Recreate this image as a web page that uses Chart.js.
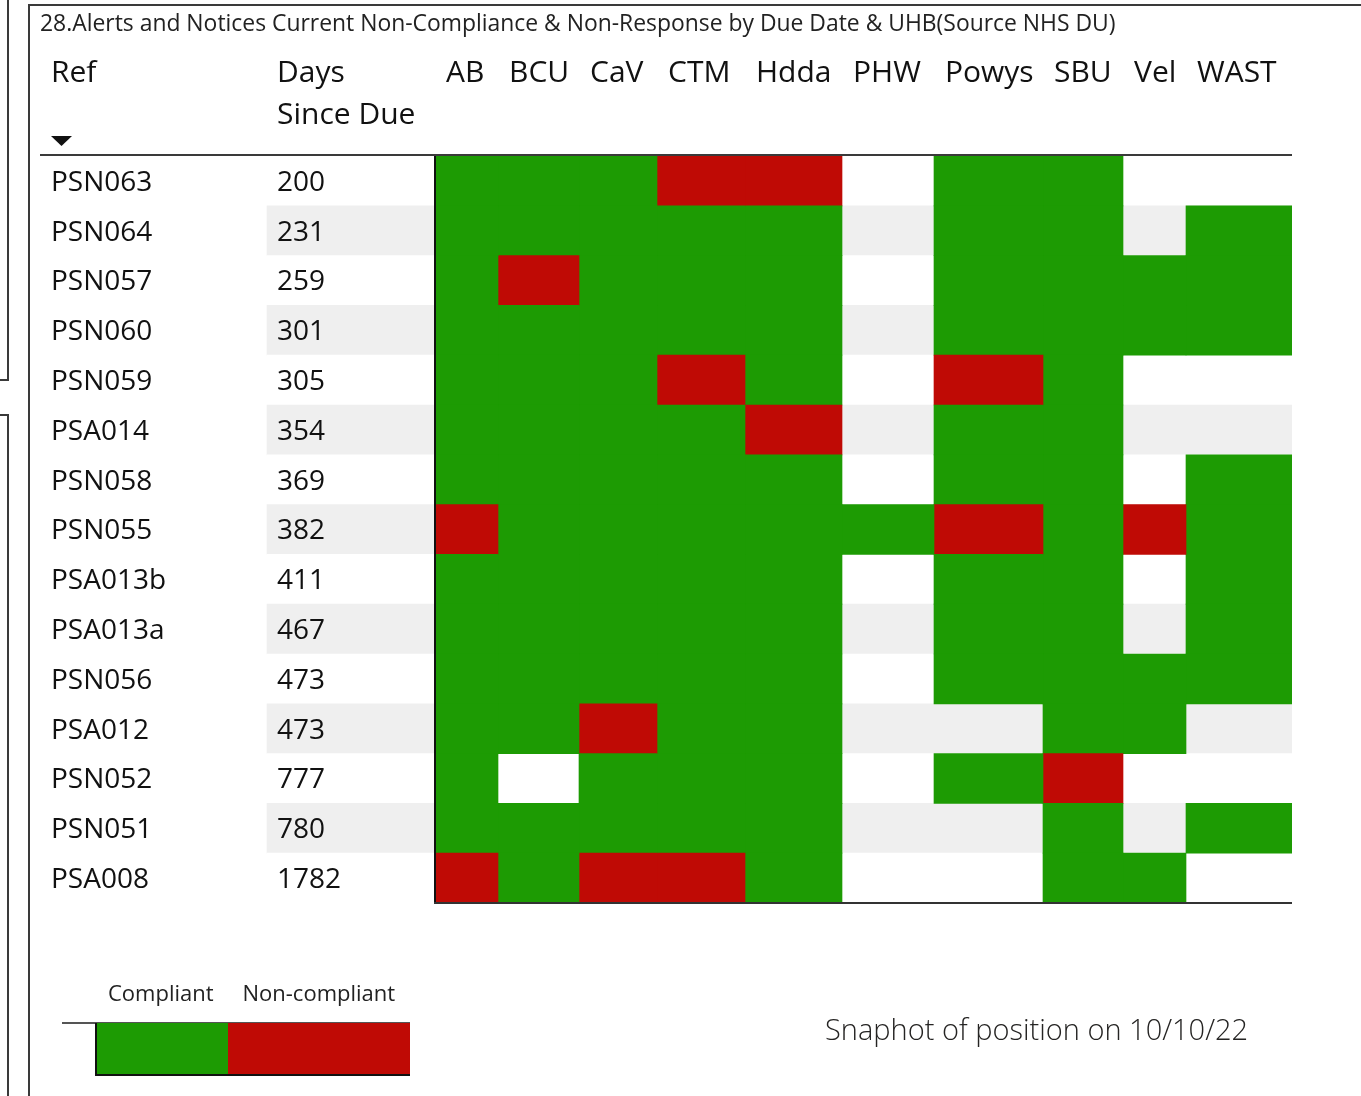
<!DOCTYPE html>
<html>
<head>
<meta charset="utf-8">
<script src="https://cdn.jsdelivr.net/npm/chart.js@4.4.1/dist/chart.umd.min.js"></script>
<style>
  html, body { margin: 0; padding: 0; background: #fff; }
  body { width: 1361px; height: 1096px; position: relative; overflow: hidden; font-family: 'Open Sans', sans-serif; }
  #chart { position: absolute; left: 0; top: 0; }
  .line { position: absolute; background: #3a3a3a; }
  .title { position: absolute; left: 40px; top: 7px; font-size: 22.9px; color: #222; white-space: nowrap; }
  .legend-label { position: absolute; top: 977px; font-size: 22px; color: #222; white-space: nowrap; }
  .swatch { position: absolute; top: 1023px; height: 52px; }
  .snapshot { position: absolute; left: 825px; top: 1009px; font-size: 29px; font-weight: 300; color: #252423; white-space: nowrap; }
</style>
</head>
<body>
<canvas id="chart" width="1361" height="1096"></canvas>

<!-- outer frame bits from the report page -->
<div class="line" style="left:7px; top:0; width:2px; height:381px;"></div>
<div class="line" style="left:0; top:379px; width:9px; height:2px;"></div>
<div class="line" style="left:7px; top:414px; width:2px; height:682px;"></div>
<div class="line" style="left:0; top:414px; width:9px; height:2px;"></div>
<div class="line" style="left:28px; top:4px; width:2px; height:1092px;"></div>
<div class="line" style="left:28px; top:4px; width:1333px; height:2px;"></div>

<div class="title">28.Alerts and Notices Current Non-Compliance &amp; Non-Response by Due Date &amp; UHB(Source NHS DU)</div>

<div class="legend-label" id="lgC">Compliant</div>
<div class="legend-label" id="lgN">Non-compliant</div>
<div class="line" style="left:62px; top:1022px; width:348px; height:2px; background:#555;"></div>
<div class="swatch" style="left:95px; width:133px; background:#1d9b03;"></div>
<div class="swatch" style="left:228px; width:182px; background:#bf0a05;"></div>
<div class="line" style="left:95px; top:1023px; width:2px; height:53px; background:#111;"></div>
<div class="line" style="left:95px; top:1074px; width:315px; height:2px; background:#111;"></div>

<div class="snapshot">Snaphot of position on 10/10/22</div>

<script>
const refs = ['PSN063', 'PSN064', 'PSN057', 'PSN060', 'PSN059', 'PSA014', 'PSN058', 'PSN055',
  'PSA013b', 'PSA013a', 'PSN056', 'PSA012', 'PSN052', 'PSN051', 'PSA008'];
const daysSinceDue = [200, 231, 259, 301, 305, 354, 369, 382, 411, 467, 473, 473, 777, 780, 1782];
const orgs = ['AB', 'BCU', 'CaV', 'CTM', 'Hdda', 'PHW', 'Powys', 'SBU', 'Vel', 'WAST'];

// 1 = compliant, 0 = non-compliant, null = nothing reported
const ab = [1, 1, 1, 1, 1, 1, 1, 0, 1, 1, 1, 1, 1, 1, 0];
const bcu = [1, 1, 0, 1, 1, 1, 1, 1, 1, 1, 1, 1, null, 1, 1];
const cav = [1, 1, 1, 1, 1, 1, 1, 1, 1, 1, 1, 0, 1, 1, 0];
const ctm = [0, 1, 1, 1, 0, 1, 1, 1, 1, 1, 1, 1, 1, 1, 0];
const hdda = [0, 1, 1, 1, 1, 0, 1, 1, 1, 1, 1, 1, 1, 1, 1];
const phw = [null, null, null, null, null, null, null, 1, null, null, null, null, null, null, null];
const powys = [1, 1, 1, 1, 0, 1, 1, 0, 1, 1, 1, null, 1, null, null];
const sbu = [1, 1, 1, 1, 1, 1, 1, 1, 1, 1, 1, 1, 0, 1, 1];
const vel = [null, null, 1, 1, null, null, null, 0, null, null, 1, 1, null, null, 1];
const wast = [null, 1, 1, 1, null, null, 1, 1, 1, 1, 1, null, null, 1, null];
const statusByOrg = [ab, bcu, cav, ctm, hdda, phw, powys, sbu, vel, wast];

// layout: width of each table column (Ref, Days, then one per org)
const colWidths = [227, 168, 63, 81, 78, 88, 97, 92, 109, 80, 63, 106];
const colStarts = colWidths.map((w, i) => colWidths.slice(0, i).reduce((a, b) => a + b, 0));
const tableWidth = colWidths.reduce((a, b) => a + b, 0);

const GREEN = '#1d9b03';
const RED = '#bf0a05';
const BAND = '#efefef';
const FONT = '"Open Sans", sans-serif';

// Alternate row shading across the Days and org columns
const bandDataset = {
  label: 'band',
  data: refs.map(() => [colStarts[1], tableWidth]),
  backgroundColor: refs.map((r, i) => (i % 2 ? BAND : '#ffffff')),
  grouped: false,
  order: 2,
};

const orgDatasets = orgs.map((org, j) => {
  const c = j + 2;
  const status = statusByOrg[j];
  return {
    label: org,
    data: status.map((s) => (s === null ? null : [colStarts[c], colStarts[c] + colWidths[c]])),
    backgroundColor: status.map((s) => (s === 1 ? GREEN : RED)),
    grouped: false,
    order: 1,
  };
});

// Draws the table text, header and borders around the cells
const tableText = {
  id: 'tableText',
  afterDatasetsDraw(chart) {
    const { ctx, chartArea, scales } = chart;
    const x = scales.x;
    const y = scales.y;
    const px = (c) => x.getPixelForValue(colStarts[c]);
    ctx.save();
    ctx.fillStyle = '#111';
    ctx.textBaseline = 'middle';
    ctx.textAlign = 'left';

    ctx.font = '28px ' + FONT;
    refs.forEach((r, i) => {
      const yy = y.getPixelForValue(i) + 2;
      ctx.fillText(r, px(0) + 11, yy);
      ctx.fillText(String(daysSinceDue[i]), px(1) + 10, yy);
    });

    // header
    ctx.font = '30px ' + FONT;
    ctx.fillText('Ref', px(0) + 11, 73);
    ctx.fillText('Days', px(1) + 10, 73);
    ctx.fillText('Since Due', px(1) + 10, 115);
    orgs.forEach((o, j) => ctx.fillText(o, px(j + 2) + 11, 73));

    // sort arrow under Ref
    ctx.beginPath();
    ctx.moveTo(px(0) + 11, 136);
    ctx.lineTo(px(0) + 32, 136);
    ctx.lineTo(px(0) + 21.5, 146);
    ctx.closePath();
    ctx.fill();

    // header underline and cell borders
    ctx.fillStyle = '#3a3a3a';
    ctx.fillRect(chartArea.left, chartArea.top - 2, chartArea.right - chartArea.left, 2);
    ctx.fillStyle = '#111';
    ctx.fillRect(px(2) - 1, chartArea.top, 2, chartArea.bottom - chartArea.top);
    ctx.fillStyle = '#333';
    ctx.fillRect(px(2) - 1, chartArea.bottom - 1, chartArea.right - px(2) + 1, 2);
    ctx.restore();
  },
};

new Chart(document.getElementById('chart'), {
  type: 'bar',
  data: {
    labels: refs,
    datasets: [...orgDatasets, bandDataset],
  },
  options: {
    indexAxis: 'y',
    responsive: false,
    animation: false,
    barPercentage: 1,
    categoryPercentage: 1,
    borderWidth: 0,
    layout: { padding: { left: 40, right: 69, top: 156, bottom: 193 } },
    scales: {
      x: { type: 'linear', min: 0, max: tableWidth, display: false },
      y: { type: 'category', display: false },
    },
    plugins: {
      legend: { display: false },
      tooltip: { enabled: false },
    },
  },
  plugins: [tableText],
});

// centre the legend labels over their swatches
const lgC = document.getElementById('lgC');
const lgN = document.getElementById('lgN');
lgC.style.left = (161 - lgC.offsetWidth / 2) + 'px';
lgN.style.left = (319 - lgN.offsetWidth / 2) + 'px';
</script>
</body>
</html>
